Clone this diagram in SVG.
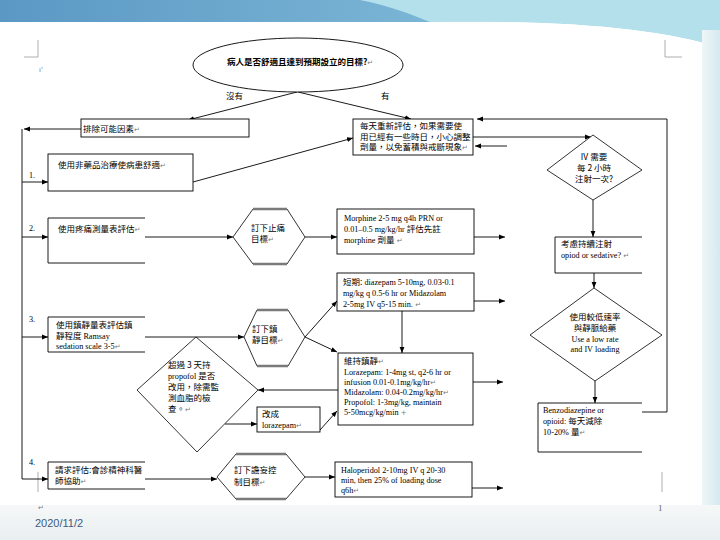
<svg xmlns="http://www.w3.org/2000/svg" width="720" height="540" viewBox="0 0 720 540">
<defs>
<linearGradient id="band" x1="0" y1="0" x2="1" y2="0">
<stop offset="0" stop-color="#5b98c4"/>
<stop offset="0.55" stop-color="#78b3d4"/>
<stop offset="1" stop-color="#9fd3e6"/>
</linearGradient>
<linearGradient id="foot" x1="0" y1="0" x2="0" y2="1">
<stop offset="0" stop-color="#f6f8f8"/>
<stop offset="1" stop-color="#e9eef0"/>
</linearGradient>
<linearGradient id="side" x1="0" y1="0" x2="1" y2="0">
<stop offset="0" stop-color="#eef6f8"/>
<stop offset="1" stop-color="#d6e9f0"/>
</linearGradient>
<marker id="ah" viewBox="0 0 10 10" refX="10" refY="5" markerWidth="6" markerHeight="6" orient="auto" markerUnits="userSpaceOnUse">
<path d="M0,1 L10,5 L0,9 z" fill="#000"/>
</marker>
<marker id="ahs" viewBox="0 0 10 10" refX="0" refY="5" markerWidth="6" markerHeight="6" orient="auto-start-reverse" markerUnits="userSpaceOnUse">
<path d="M0,1 L10,5 L0,9 z" fill="#000"/>
</marker>
</defs>
<style>
.ln{fill:none;stroke:#000;stroke-width:0.9}
.ar{fill:none;stroke:#000;stroke-width:0.9;marker-end:url(#ah)}
.bx{fill:#fff;stroke:#000;stroke-width:0.9}
.ob{fill:none;stroke:#000;stroke-width:0.9}
.hx{fill:#fff;stroke:#000;stroke-width:0.8}
.hb{fill:none;stroke:#7a7a7a;stroke-width:2.4}
.zh{font-family:"Noto Sans CJK TC","Noto Sans CJK SC",sans-serif;font-size:8.5px;fill:#000}
.en{font-family:"Liberation Serif","Noto Sans CJK TC",serif;font-size:8.2px;fill:#000}
.pm{fill:#777;font-size:7px;font-family:"DejaVu Sans",sans-serif}
.mk{fill:none;stroke:#999;stroke-width:0.8}
</style>

<!-- slide background -->
<rect width="720" height="540" fill="#fff"/>
<rect x="0" y="0" width="720" height="22" fill="url(#band)"/>
<path d="M360,0 L720,0 L720,48 C660,28 560,20 430,22 C410,14 390,6 360,0 Z" fill="#b4e0ec"/>
<path d="M430,22 C560,20 660,28 720,48 L720,52 C660,34 560,26 430,22 Z" fill="#ffffff"/>
<rect x="702" y="30" width="18" height="475" fill="url(#side)"/>
<rect x="0" y="505" width="720" height="35" fill="url(#foot)"/>

<!-- page corner marks -->
<path class="mk" d="M24,57 H38 V40 M682,57 H665 V40 M38,472 V492 M662,472 V492"/>
<text x="39" y="72" class="pm">ı'</text>
<text x="38" y="510" class="pm">↵</text>
<text x="658" y="511" font-family="Liberation Serif,serif" font-size="9" fill="#666">1</text>
<text x="35" y="527" font-family="Liberation Sans,Arial,sans-serif" font-size="11" fill="#3d5a80">2020/11/2</text>

<!-- connectors -->
<g id="connectors">
<path class="ar" d="M297,92 L188,120"/>
<path class="ar" d="M298,92 L411,119"/>
<path class="ar" d="M81,129 L24,129"/>
<path class="ln" d="M22,129 V479"/>
<path class="ar" d="M22,182 H48"/>
<path class="ar" d="M22,237 H48"/>
<path class="ar" d="M22,337 H48"/>
<path class="ar" d="M22,479 H48"/>
<path class="ar" d="M193,182 L353,138"/>
<path class="ar" d="M473,137 H591"/>
<path class="ar" d="M507,146 H475"/>
<path class="ar" d="M642,412 H667 V119 H477"/>
<path class="ar" d="M145,237 H233"/>
<path class="ar" d="M305,237 H337"/>
<path class="ar" d="M474,237 H505"/>
<path class="ar" d="M593,200 V237"/>
<path class="ar" d="M594,273 V288"/>
<path class="ar" d="M595,381 V403"/>
<path class="ar" d="M145,337 H244"/>
<path class="ar" d="M305,337 L337,301"/>
<path class="ar" d="M305,337 L337,352"/>
<path class="ar" d="M474,301 H505"/>
<path class="ln" d="M402,311 V353" marker-start="url(#ahs)" marker-end="url(#ah)"/>
<path class="ar" d="M473,382 H503"/>
<path class="ar" d="M338,390 H258"/>
<path class="ar" d="M225,424 H257"/>
<path class="ar" d="M320,430 L337,411"/>
<path class="ar" d="M145,479 H217"/>
<path class="ar" d="M305,477 H335"/>
<path class="ar" d="M472,488 H503"/>
</g>

<!-- question -->
<g id="q0">
<ellipse cx="298" cy="65" rx="105" ry="27" class="bx"/>
<text x="300" y="65" text-anchor="middle" class="zh" font-size="11.5" font-weight="bold">病人是否舒適且達到預期設立的目標?<tspan class="pm" font-weight="normal">↵</tspan></text>
</g>
<g id="lbl-no"><text x="226" y="99" class="zh" font-size="10">沒有</text></g>
<g id="lbl-yes"><text x="381" y="99" class="zh" font-size="10">有</text></g>

<g id="nA">
<rect x="81" y="119" width="168" height="18" class="bx"/>
<text x="83" y="132" class="zh" font-size="10">排除可能因素<tspan class="pm">↵</tspan></text>
</g>

<g id="nB">
<rect x="353" y="119" width="120" height="36" class="bx"/>
<text x="360" y="129" class="zh" font-size="8">每天重新評估，如果需要使</text>
<text x="360" y="139.5" class="zh" font-size="8">用已經有一些時日，小心調整</text>
<text x="360" y="150" class="zh" font-size="8">劑量，以免蓄積與戒斷現象<tspan class="pm">↵</tspan></text>
</g>

<g id="n1">
<text x="29" y="178" class="en" font-size="9">1.</text>
<rect x="48" y="154" width="145" height="37" class="bx"/>
<text x="58" y="168" class="zh" font-size="9">使用非藥品治療使病患舒適<tspan class="pm">↵</tspan></text>
</g>

<g id="n2">
<text x="29" y="231" class="en" font-size="9">2.</text>
<path class="ob" d="M145,218 H48 V263 H145"/>
<text x="58" y="232" class="zh">使用疼痛測量表評估<tspan class="pm">↵</tspan></text>
</g>

<g id="h2">
<polygon class="hx" points="233,237 253,209 287,209 305,237 287,264 253,264"/>
<path class="hb" d="M253,209 H287 M253,264 H287"/>
<text x="251" y="231" class="zh">訂下止痛</text>
<text x="251" y="242" class="zh">目標<tspan class="pm">↵</tspan></text>
</g>

<g id="nMorph">
<rect x="337" y="209" width="137" height="45" class="bx"/>
<text x="344" y="221" class="en">Morphine 2-5 mg q4h PRN or</text>
<text x="344" y="232" class="en">0.01–0.5 mg/kg/hr <tspan class="zh" font-size="8">評估先註</tspan></text>
<text x="344" y="243" class="en">morphine <tspan class="zh" font-size="8">劑量</tspan><tspan class="pm">  ↵</tspan></text>
</g>

<g id="d1">
<polygon class="hx" points="593,135 642,170 593,200 547,170"/>
<text x="594" y="160" text-anchor="middle" class="zh" font-size="7">IV 需要</text>
<text x="594" y="171" text-anchor="middle" class="zh" font-size="7">每 2 小時</text>
<text x="594" y="182" text-anchor="middle" class="zh" font-size="7">注射一次?</text>
</g>

<g id="nCons">
<path class="ob" d="M642,237 H555 V273 H642"/>
<text x="561" y="247" class="zh" font-size="8">考慮持續注射</text>
<text x="561" y="258" class="en">opiod or sedative?<tspan class="pm">  ↵</tspan></text>
</g>

<g id="d2">
<polygon class="hx" points="594,288 662,335 595,381 530,335"/>
<text x="595" y="320" text-anchor="middle" class="zh" font-size="7.5">使用較低速率</text>
<text x="595" y="331" text-anchor="middle" class="zh" font-size="7.5">與靜脈給藥</text>
<text x="595" y="342" text-anchor="middle" class="en">Use a low rate</text>
<text x="595" y="352" text-anchor="middle" class="en">and IV loading</text>
</g>

<g id="nBenzo">
<path class="ob" d="M642,403 H538 V452 H642"/>
<text x="543" y="413" class="en">Benzodiazepine or</text>
<text x="543" y="424" class="en">opioid: <tspan class="zh" font-size="8.5">每天減除</tspan></text>
<text x="543" y="435" class="en" fill="#555">10-20% <tspan class="zh" font-size="8.5" fill="#000">量</tspan><tspan class="pm">↵</tspan></text>
</g>

<g id="n3">
<text x="29" y="322" class="en" font-size="9">3.</text>
<path class="ob" d="M145,317 H48 V352 H145"/>
<text x="56" y="328" class="zh" font-size="8">使用鎮靜量表評估鎮</text>
<text x="56" y="338.5" class="zh" font-size="8">靜程度 <tspan class="en">Ramsay</tspan></text>
<text x="56" y="349" class="en" font-size="8">sedation scale 3-5<tspan class="pm">↵</tspan></text>
</g>

<g id="h3">
<polygon class="hx" points="244,337 257,310 288,310 305,337 288,366 257,366"/>
<path class="hb" d="M257,310 H288 M257,366 H288"/>
<text x="252" y="332" class="zh">訂下鎮</text>
<text x="252" y="343" class="zh">靜目標<tspan class="pm">↵</tspan></text>
</g>

<g id="nShort">
<rect x="337" y="273" width="137" height="38" class="bx"/>
<text x="343" y="285" class="en"><tspan class="zh" font-size="8">短期:</tspan> diazepam 5-10mg, 0.03-0.1</text>
<text x="343" y="296" class="en">mg/kg q 0.5-6 hr or Midazolam</text>
<text x="343" y="307" class="en">2-5mg IV q5-15 min.<tspan class="pm">  ↵</tspan></text>
</g>

<g id="nMaint">
<rect x="338" y="353" width="135" height="72" class="bx"/>
<text x="344" y="364" class="zh" font-size="8">維持鎮靜<tspan class="pm">↵</tspan></text>
<text x="344" y="375" class="en" font-size="8">Lorazepam: 1-4mg st, q2-6 hr or</text>
<text x="344" y="385" class="en" font-size="7.8">infusion 0.01-0.1mg/kg/hr<tspan class="pm">↵</tspan></text>
<text x="344" y="395" class="en" font-size="8">Midazolam: 0.04-0.2mg/kg/hr<tspan class="pm">↵</tspan></text>
<text x="344" y="405" class="en" font-size="8">Propofol: 1-3mg/kg, maintain</text>
<text x="344" y="415" class="en" font-size="7.8">5-50mcg/kg/min<tspan class="pm">      +</tspan></text>
</g>

<g id="d3">
<polygon class="hx" points="196,337 258,390 197,452 137,390"/>
<text x="168" y="368" class="zh" font-size="7">超過 3 天持</text>
<text x="168" y="379" class="en" font-size="7.5">propofol <tspan class="zh" font-size="7">是否</tspan></text>
<text x="168" y="390" class="zh" font-size="7">改用，除需監</text>
<text x="168" y="401" class="zh" font-size="7">測血脂的檢</text>
<text x="168" y="412" class="zh" font-size="7">查。<tspan class="pm">↵</tspan></text>
</g>

<g id="nLora">
<rect x="257" y="407" width="63" height="25" class="bx"/>
<text x="262" y="417" class="zh" font-size="8">改成</text>
<text x="262" y="428" class="en">lorazepam<tspan class="pm">↵</tspan></text>
</g>

<g id="n4">
<text x="29" y="465" class="en" font-size="9">4.</text>
<path class="ob" d="M145,462 H48 V489 H145"/>
<text x="55" y="473" class="zh" font-size="8">請求評估:會診精神科醫</text>
<text x="55" y="484" class="zh" font-size="8">師協助<tspan class="pm">↵</tspan></text>
</g>

<g id="h4">
<polygon class="hx" points="217,477 236,454 286,454 305,477 286,499 236,499"/>
<path class="hb" d="M236,454 H286 M236,499 H286"/>
<text x="234" y="473" class="zh">訂下譫妄控</text>
<text x="234" y="485" class="zh">制目標<tspan class="pm">↵</tspan></text>
</g>

<g id="nHalo">
<rect x="335" y="462" width="137" height="35" class="bx"/>
<text x="341" y="473" class="en">Haloperidol 2-10mg IV q 20-30</text>
<text x="341" y="483" class="en">min, then 25% of loading dose</text>
<text x="341" y="493" class="en">q6h<tspan class="pm">↵</tspan></text>
</g>
</svg>
